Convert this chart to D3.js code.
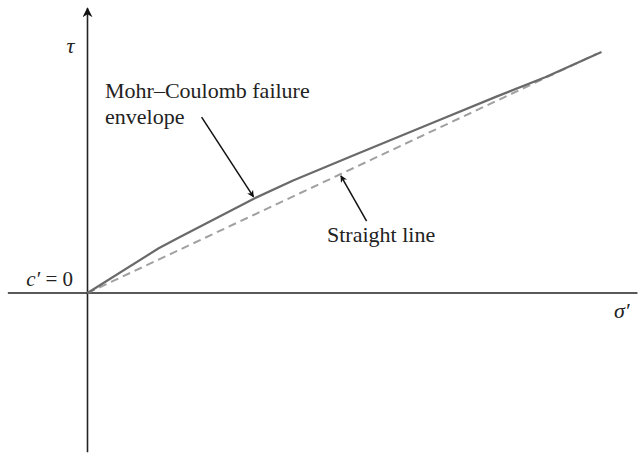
<!DOCTYPE html>
<html>
<head>
<meta charset="utf-8">
<script src="https://cdn.jsdelivr.net/npm/d3@7/dist/d3.min.js"></script>
<style>
  html, body { margin: 0; padding: 0; background: #fff; }
  svg { display: block; }
  text { font-family: "Liberation Serif", "DejaVu Serif", serif; fill: #222; }
</style>
</head>
<body>
<svg id="chart" width="638" height="458"></svg>
<script>
// ---- data (sigma' and tau in arbitrary stress units) ----
const sigmaFailure = [0, 13.85, 17.8, 32.45, 40.0, 51.1, 66.1, 79.55, 89.05, 100];
const tauFailure   = [0, 8.7, 10.8, 18.4, 21.9, 26.5, 32.7, 38.2, 41.97, 46.9];
const sigmaStraight = [0, 99];
const tauStraight   = [0, 46.5];
const sigmaAxisExtent = [-15.5, 107];
const tauAxisExtent = [-31, 55.4];
const labels = {
  tau: "τ",
  sigma: "σ′",
  cohesion: "c′ = 0",
  failure: ["Mohr–Coulomb failure", "envelope"],
  straight: "Straight line"
};

// ---- scales ----
const x = d3.scaleLinear().domain([0, 100]).range([87.5, 601.5]);
const y = d3.scaleLinear().domain([0, 47]).range([293, 51.4]);

const svg = d3.select("#chart");
const defs = svg.append("defs");
defs.append("marker")
  .attr("id", "axisHead")
  .attr("markerUnits", "userSpaceOnUse")
  .attr("viewBox", "0 0 10 10")
  .attr("refX", 9).attr("refY", 5)
  .attr("markerWidth", 10).attr("markerHeight", 10)
  .attr("orient", "auto")
  .append("path").attr("d", "M0,0 L10,5 L0,10 L3,5 Z").attr("fill", "#111");
defs.append("marker")
  .attr("id", "annHead")
  .attr("markerUnits", "userSpaceOnUse")
  .attr("viewBox", "0 0 10 10")
  .attr("refX", 9).attr("refY", 5)
  .attr("markerWidth", 10).attr("markerHeight", 7)
  .attr("orient", "auto")
  .append("path").attr("d", "M0,0 L10,5 L0,10 L3,5 Z").attr("fill", "#111");

// ---- axes ----
svg.append("line")
  .attr("x1", x(sigmaAxisExtent[0])).attr("x2", x(sigmaAxisExtent[1]))
  .attr("y1", y(0)).attr("y2", y(0))
  .attr("stroke", "#222").attr("stroke-width", 1.6);
svg.append("line")
  .attr("x1", x(0)).attr("x2", x(0))
  .attr("y1", y(tauAxisExtent[0])).attr("y2", y(tauAxisExtent[1]))
  .attr("stroke", "#222").attr("stroke-width", 1.6)
  .attr("marker-end", "url(#axisHead)");

// ---- lines ----
const line = d3.line().x(d => x(d[0])).y(d => y(d[1]));
svg.append("path")
  .datum(d3.zip(sigmaStraight, tauStraight))
  .attr("d", line)
  .attr("fill", "none")
  .attr("stroke", "#a0a0a0").attr("stroke-width", 2)
  .attr("stroke-dasharray", "8,5");
svg.append("path")
  .datum(d3.zip(sigmaFailure, tauFailure))
  .attr("d", line)
  .attr("fill", "none")
  .attr("stroke", "#6a6a6a").attr("stroke-width", 2.2)
  .attr("stroke-linejoin", "round");

// ---- annotation arrows ----
function arrow(s0, t0, s1, t1) {
  svg.append("line")
    .attr("x1", x(s0)).attr("y1", y(t0))
    .attr("x2", x(s1)).attr("y2", y(t1))
    .attr("stroke", "#111").attr("stroke-width", 1.5)
    .attr("marker-end", "url(#annHead)");
}
arrow(22.2, 34.2, 32.3, 18.7);
arrow(54.3, 14.0, 49.3, 22.8);

// ---- labels ----
svg.append("text").attr("x", 66.5).attr("y", 53)
  .attr("font-size", 22).attr("font-style", "italic").text(labels.tau);
svg.append("text").attr("x", 614).attr("y", 318)
  .attr("font-size", 22).attr("font-style", "italic").text(labels.sigma);

const c = svg.append("text").attr("x", 73).attr("y", 286)
  .attr("font-size", 21).attr("text-anchor", "end");
c.append("tspan").attr("font-style", "italic").text("c′");
c.append("tspan").text(labels.cohesion.slice(2));

svg.append("text").attr("x", 105).attr("y", 98)
  .attr("font-size", 22).text(labels.failure[0]);
svg.append("text").attr("x", 105).attr("y", 124)
  .attr("font-size", 22).text(labels.failure[1]);
svg.append("text").attr("x", 327).attr("y", 241.5)
  .attr("font-size", 22).text(labels.straight);
</script>
</body>
</html>
